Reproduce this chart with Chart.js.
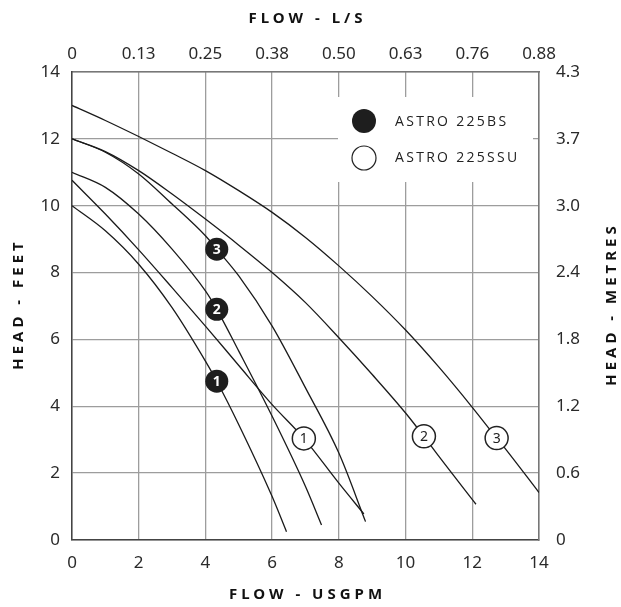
<!DOCTYPE html>
<html lang="en">
<head>
    <meta charset="UTF-8">
    <title>Astro 225 pump curves</title>
    <style>
        body {
            margin: 0;
            background-color: #ffffff;
        }

        .chart-container {
            width: 621px;
            height: 607px;
        }
    </style>
</head>
<body>
    <div class="chart-container">
        <canvas id="pumpChart" width="621" height="607"></canvas>
    </div>

    <script src="https://cdn.jsdelivr.net/npm/chart.js"></script>
    <script>
        // Flow (USGPM) / head (feet)
        const flowBS1 = [0, 1, 2, 3, 4, 4.34, 5, 6, 6.43];
        const headBS1 = [10.0, 9.25, 8.25, 6.95, 5.35, 4.75, 3.45, 1.3, 0.25];
        const flowBS2 = [0, 1, 2, 3, 4, 4.34, 5, 6, 7, 7.48];
        const headBS2 = [11.0, 10.55, 9.75, 8.7, 7.45, 6.9, 5.65, 3.7, 1.6, 0.45];
        const flowBS3 = [0, 1, 2, 3, 4, 4.34, 5, 6, 7, 8, 8.8];
        const headBS3 = [12.0, 11.6, 10.95, 10.05, 9.1, 8.7, 7.9, 6.4, 4.55, 2.6, 0.55];

        const flowSSU1 = [0, 1, 2, 3, 4, 5, 6, 6.95, 8, 8.75];
        const headSSU1 = [10.76, 9.75, 8.68, 7.55, 6.4, 5.22, 4.05, 3.04, 1.7, 0.78];
        const flowSSU2 = [0, 1, 2, 3, 4, 5, 6, 7, 8, 9, 10, 10.55, 11, 12.11];
        const headSSU2 = [12.0, 11.62, 11.05, 10.35, 9.6, 8.82, 8.0, 7.1, 6.05, 4.95, 3.8, 3.1, 2.5, 1.07];
        const flowSSU3 = [0, 1, 2, 3, 4, 5, 6, 7, 8, 9, 10, 11, 12, 12.73, 13, 14];
        const headSSU3 = [13.0, 12.55, 12.07, 11.57, 11.05, 10.45, 9.8, 9.05, 8.2, 7.28, 6.28, 5.17, 3.97, 3.05, 2.72, 1.42];

        // where the numbered markers sit on each curve
        const markerFlowBS = [4.34, 4.34, 4.34];
        const markerFlowSSU = [6.95, 10.55, 12.73];
        const markerLabels = ['1', '2', '3'];

        const topFlowLabels = ['0', '0.13', '0.25', '0.38', '0.50', '0.63', '0.76', '0.88'];
        const rightHeadLabels = ['0', '0.6', '1.2', '1.8', '2.4', '3.0', '3.7', '4.3'];

        const legendNames = ['ASTRO 225BS', 'ASTRO 225SSU'];

        const lineColor = '#1a1a1a';
        const gridColor = '#9d9d9d';
        const tickFont = { family: "'Noto Sans', sans-serif", size: 17 };

        function toPoints(xs, ys) {
            return xs.map((x, i) => ({ x: x, y: ys[i] }));
        }

        function makeCurve(xs, ys, markerFlow, label, filled) {
            return {
                label: label,
                data: toPoints(xs, ys),
                borderColor: lineColor,
                borderWidth: 1.3,
                cubicInterpolationMode: 'monotone',
                pointRadius: ctx => (ctx.raw && ctx.raw.x === markerFlow ? 11.5 : 0),
                pointBackgroundColor: filled ? '#1e1e1e' : '#ffffff',
                pointBorderColor: '#222222',
                pointBorderWidth: filled ? 0 : 1.5,
                pointHoverRadius: 0,
                filled: filled,
                markerFlow: markerFlow
            };
        }

        const datasets = [
            makeCurve(flowBS1, headBS1, markerFlowBS[0], markerLabels[0], true),
            makeCurve(flowBS2, headBS2, markerFlowBS[1], markerLabels[1], true),
            makeCurve(flowBS3, headBS3, markerFlowBS[2], markerLabels[2], true),
            makeCurve(flowSSU1, headSSU1, markerFlowSSU[0], markerLabels[0], false),
            makeCurve(flowSSU2, headSSU2, markerFlowSSU[1], markerLabels[1], false),
            makeCurve(flowSSU3, headSSU3, markerFlowSSU[2], markerLabels[2], false)
        ];

        // numbers inside the markers
        const markerText = {
            id: 'markerText',
            afterDatasetsDraw(chart) {
                const ctx = chart.ctx;
                ctx.save();
                ctx.textAlign = 'center';
                ctx.textBaseline = 'middle';
                chart.data.datasets.forEach((ds, i) => {
                    const meta = chart.getDatasetMeta(i);
                    ds.data.forEach((p, j) => {
                        if (p.x !== ds.markerFlow) return;
                        const el = meta.data[j];
                        ctx.fillStyle = ds.filled ? '#ffffff' : '#222222';
                        ctx.font = (ds.filled ? 'bold ' : '') + "14px 'Noto Sans', sans-serif";
                        ctx.fillText(ds.label, el.x, el.y + 1);
                    });
                });
                ctx.restore();
            }
        };

        // legend box inside the plot
        const legendBox = {
            id: 'legendBox',
            beforeDatasetsDraw(chart) {
                const ctx = chart.ctx;
                const a = chart.chartArea;
                const left = a.left + 266;
                const top = a.top + 25;
                ctx.save();
                ctx.fillStyle = '#ffffff';
                ctx.fillRect(left, top, 195, 85);

                ctx.beginPath();
                ctx.arc(left + 26, top + 24, 12, 0, Math.PI * 2);
                ctx.fillStyle = '#1e1e1e';
                ctx.fill();

                ctx.beginPath();
                ctx.arc(left + 26, top + 61, 12, 0, Math.PI * 2);
                ctx.fillStyle = '#ffffff';
                ctx.fill();
                ctx.lineWidth = 1.2;
                ctx.strokeStyle = '#222222';
                ctx.stroke();

                ctx.fillStyle = '#222222';
                ctx.font = "14px 'Open Sans', sans-serif";
                ctx.letterSpacing = '2.3px';
                ctx.textBaseline = 'middle';
                ctx.fillText(legendNames[0], left + 57, top + 25);
                ctx.fillText(legendNames[1], left + 57, top + 61);
                ctx.restore();
            }
        };

        // spaced-out axis titles
        const axisTitles = {
            id: 'axisTitles',
            afterDraw(chart) {
                const ctx = chart.ctx;
                const a = chart.chartArea;
                const cx = (a.left + a.right) / 2;
                const cy = (a.top + a.bottom) / 2;
                ctx.save();
                ctx.fillStyle = '#111111';
                ctx.font = "bold 15px 'Noto Sans', sans-serif";
                ctx.letterSpacing = '4px';
                ctx.textAlign = 'center';
                ctx.textBaseline = 'middle';
                ctx.fillText('FLOW - L/S', cx + 2, 19);
                ctx.fillText('FLOW - USGPM', cx + 2, chart.height - 12);

                ctx.save();
                ctx.translate(19, cy);
                ctx.rotate(-Math.PI / 2);
                ctx.fillText('HEAD - FEET', 2, 0);
                ctx.restore();

                ctx.save();
                ctx.translate(chart.width - 9, cy);
                ctx.rotate(-Math.PI / 2);
                ctx.fillText('HEAD - METRES', 2, 0);
                ctx.restore();
                ctx.restore();
            }
        };

        const chart = new Chart(document.getElementById('pumpChart').getContext('2d'), {
            type: 'line',
            data: { datasets: datasets },
            plugins: [legendBox, markerText, axisTitles],
            options: {
                responsive: false,
                animation: false,
                layout: { padding: 0 },
                plugins: {
                    legend: { display: false },
                    tooltip: { enabled: false }
                },
                scales: {
                    x: {
                        type: 'linear',
                        position: 'bottom',
                        min: 0,
                        max: 14,
                        afterFit: s => { s.height = 67; },
                        ticks: { stepSize: 2, padding: 13, color: '#2a2a2a', font: tickFont, maxRotation: 0 },
                        grid: { color: gridColor, lineWidth: 1.3, drawTicks: false },
                        border: { color: '#444444', width: 1.5 }
                    },
                    x2: {
                        type: 'linear',
                        position: 'top',
                        display: true,
                        min: 0,
                        max: 14,
                        afterFit: s => { s.height = 72; },
                        ticks: {
                            stepSize: 2,
                            padding: 8,
                            color: '#2a2a2a',
                            font: tickFont,
                            maxRotation: 0,
                            callback: (v, i) => topFlowLabels[i]
                        },
                        grid: { drawOnChartArea: false, drawTicks: false },
                        border: { color: '#777777', width: 1.5 }
                    },
                    y: {
                        type: 'linear',
                        position: 'left',
                        min: 0,
                        max: 14,
                        afterFit: s => { s.width = 72; },
                        ticks: { stepSize: 2, padding: 12, color: '#2a2a2a', font: tickFont },
                        grid: { color: gridColor, lineWidth: 1.3, drawTicks: false },
                        border: { color: '#444444', width: 1.5 }
                    },
                    y2: {
                        type: 'linear',
                        position: 'right',
                        display: true,
                        min: 0,
                        max: 14,
                        afterFit: s => { s.width = 82; },
                        ticks: {
                            stepSize: 2,
                            padding: 17,
                            color: '#2a2a2a',
                            font: tickFont,
                            callback: (v, i) => rightHeadLabels[i]
                        },
                        grid: { drawOnChartArea: false, drawTicks: false },
                        border: { color: '#777777', width: 1.5 }
                    }
                }
            }
        });
    </script>
</body>
</html>
